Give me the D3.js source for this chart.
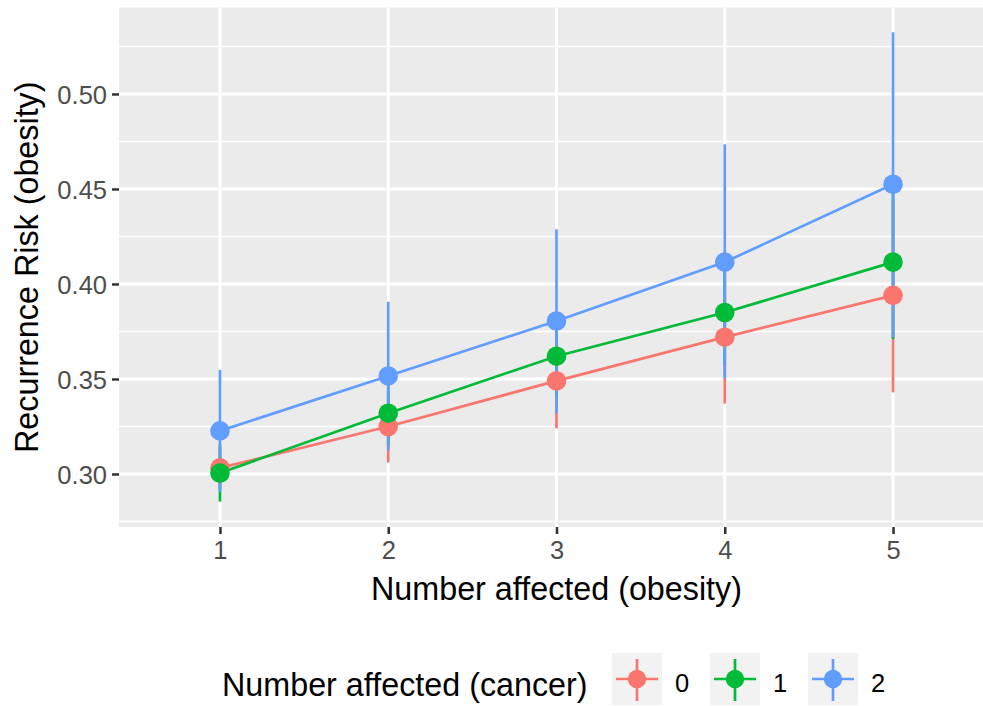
<!DOCTYPE html>
<html>
<head>
<meta charset="utf-8">
<script src="https://cdn.jsdelivr.net/npm/d3@7"></script>
<style>
  html, body { margin: 0; padding: 0; background: #ffffff; }
  svg { display: block; }
  text { font-family: "Liberation Sans", Arial, Helvetica, sans-serif; }
</style>
</head>
<body>
<script>
// Number of relatives affected by obesity (x) and cancer groups (colour)
const nObesity = [1, 2, 3, 4, 5];
const cancerLevels = ["0", "1", "2"];
const cancerColors = ["#F8766D", "#00BA38", "#619CFF"];

// Recurrence risk estimates with interval bounds, one array per cancer group
const risk0  = [0.3032, 0.3250, 0.3490, 0.3720, 0.3940];
const lower0 = [0.2920, 0.3060, 0.3240, 0.3370, 0.3430];
const upper0 = [0.3140, 0.3440, 0.3730, 0.4070, 0.4450];

const risk1  = [0.3005, 0.3320, 0.3620, 0.3850, 0.4115];
const lower1 = [0.2855, 0.3150, 0.3400, 0.3570, 0.3710];
const upper1 = [0.3155, 0.3490, 0.3840, 0.4130, 0.4520];

const risk2  = [0.3227, 0.3516, 0.3805, 0.4115, 0.4525];
const lower2 = [0.2905, 0.3125, 0.3320, 0.3505, 0.3720];
const upper2 = [0.3548, 0.3906, 0.4288, 0.4735, 0.5325];

const yMajorTicks = [0.30, 0.35, 0.40, 0.45, 0.50];
const yMinorTicks = [0.275, 0.325, 0.375, 0.425, 0.475, 0.525];
const yTickLabels = ["0.30", "0.35", "0.40", "0.45", "0.50"];

const xTitle = "Number affected (obesity)";
const yTitle = "Recurrence Risk (obesity)";
const legendTitle = "Number affected (cancer)";

const groups = [
  { level: cancerLevels[0], color: cancerColors[0], risk: risk0, lo: lower0, hi: upper0 },
  { level: cancerLevels[1], color: cancerColors[1], risk: risk1, lo: lower1, hi: upper1 },
  { level: cancerLevels[2], color: cancerColors[2], risk: risk2, lo: lower2, hi: upper2 }
];

const W = 983, H = 706;
const panel = { left: 119, right: 994, top: 7.5, bottom: 527 };
const tickFont = "25.5px", titleFont = "32.3px";

const svg = d3.select("body").append("svg")
  .attr("width", W).attr("height", H);

const x = d3.scaleLinear().domain([0.4, 5.6]).range([panel.left, panel.right]);
const y = d3.scaleLinear().domain([0.2721, 0.5455]).range([panel.bottom, panel.top]);

// Panel background
svg.append("rect")
  .attr("x", panel.left).attr("y", panel.top)
  .attr("width", panel.right - panel.left).attr("height", panel.bottom - panel.top)
  .attr("fill", "#EBEBEB");

// Grid lines
const grid = svg.append("g");
grid.selectAll(".ymin").data(yMinorTicks).join("line")
  .attr("x1", panel.left).attr("x2", panel.right)
  .attr("y1", d => y(d)).attr("y2", d => y(d))
  .attr("stroke", "#FFFFFF").attr("stroke-width", 1.5);
grid.selectAll(".ymaj").data(yMajorTicks).join("line")
  .attr("x1", panel.left).attr("x2", panel.right)
  .attr("y1", d => y(d)).attr("y2", d => y(d))
  .attr("stroke", "#FFFFFF").attr("stroke-width", 3);
grid.selectAll(".xmaj").data(nObesity).join("line")
  .attr("y1", panel.top).attr("y2", panel.bottom)
  .attr("x1", d => x(d)).attr("x2", d => x(d))
  .attr("stroke", "#FFFFFF").attr("stroke-width", 3);

// Axes
const yAxis = d3.axisLeft(y).tickValues(yMajorTicks)
  .tickFormat((d, i) => yTickLabels[i]).tickSize(7).tickPadding(5);
const gy = svg.append("g").attr("transform", `translate(${panel.left},0)`).call(yAxis);
gy.select(".domain").remove();
gy.selectAll(".tick line").attr("stroke", "#333333").attr("stroke-width", 2.5);
gy.selectAll(".tick text").attr("fill", "#4D4D4D").style("font-size", tickFont)
  .attr("dy", "0.36em");

const xAxis = d3.axisBottom(x).tickValues(nObesity).tickFormat(d3.format("d"))
  .tickSize(7).tickPadding(7);
const gx = svg.append("g").attr("transform", `translate(0,${panel.bottom})`).call(xAxis);
gx.select(".domain").remove();
gx.selectAll(".tick line").attr("stroke", "#333333").attr("stroke-width", 2.5);
gx.selectAll(".tick text").attr("fill", "#4D4D4D").style("font-size", tickFont);

// Axis titles
svg.append("text")
  .attr("x", (panel.left + panel.right) / 2).attr("y", 600)
  .attr("text-anchor", "middle").attr("fill", "#000000")
  .style("font-size", titleFont).text(xTitle);
svg.append("text")
  .attr("transform", `translate(38,${(panel.top + panel.bottom) / 2}) rotate(-90)`)
  .attr("text-anchor", "middle").attr("fill", "#000000")
  .style("font-size", titleFont).text(yTitle);

// Connecting lines per group
const line = d3.line().x((d, i) => x(nObesity[i])).y(d => y(d));
const plot = svg.append("g");
groups.forEach(g => {
  plot.append("path").datum(g.risk)
    .attr("d", line).attr("fill", "none")
    .attr("stroke", g.color).attr("stroke-width", 2.7);
});

// Interval ranges
groups.forEach(g => {
  plot.append("g").selectAll("line").data(nObesity).join("line")
    .attr("x1", d => x(d)).attr("x2", d => x(d))
    .attr("y1", (d, i) => y(g.lo[i])).attr("y2", (d, i) => y(g.hi[i]))
    .attr("stroke", g.color).attr("stroke-width", 2.7);
});

// Points
groups.forEach(g => {
  plot.append("g").selectAll("circle").data(nObesity).join("circle")
    .attr("cx", d => x(d)).attr("cy", (d, i) => y(g.risk[i]))
    .attr("r", 9.8).attr("fill", g.color);
});

// Legend
const legend = svg.append("g");
legend.append("text")
  .attr("x", 222).attr("y", 696)
  .attr("fill", "#000000").style("font-size", titleFont).text(legendTitle);

const keyX = [612, 710, 808];
const keyW = 50, keyH = 52, keyCY = 679;
groups.forEach((g, i) => {
  const k = legend.append("g").attr("transform", `translate(${keyX[i]},${keyCY})`);
  k.append("rect").attr("x", 0).attr("y", -keyH / 2)
    .attr("width", keyW).attr("height", keyH).attr("fill", "#F2F2F2");
  k.append("line").attr("x1", 4).attr("x2", keyW - 4).attr("y1", 0).attr("y2", 0)
    .attr("stroke", g.color).attr("stroke-width", 2.7);
  k.append("line").attr("x1", keyW / 2).attr("x2", keyW / 2).attr("y1", -20).attr("y2", 22)
    .attr("stroke", g.color).attr("stroke-width", 2.7);
  k.append("circle").attr("cx", keyW / 2).attr("cy", 0).attr("r", 9.2).attr("fill", g.color);
  legend.append("text")
    .attr("x", keyX[i] + keyW + 20).attr("y", keyCY + 13)
    .attr("text-anchor", "middle").attr("fill", "#000000")
    .style("font-size", tickFont).text(g.level);
});
</script>
</body>
</html>
